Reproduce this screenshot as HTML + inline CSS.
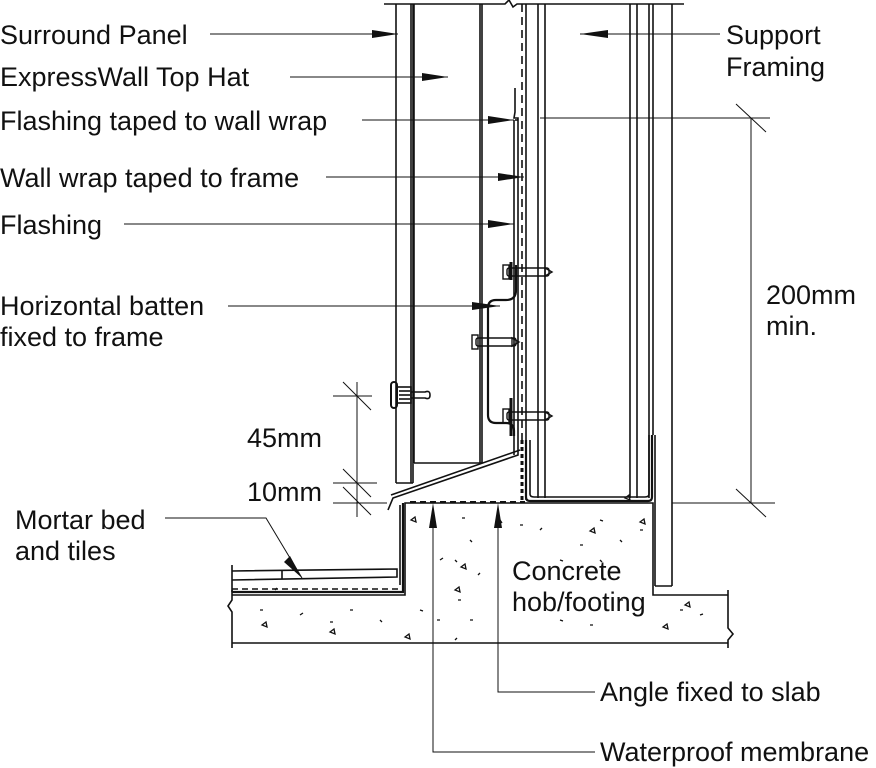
<!DOCTYPE html>
<html><head><meta charset="utf-8"><style>
html,body{margin:0;padding:0;background:#fff;}
svg{display:block}
text{font-family:"Liberation Sans",Arial,sans-serif;font-size:27px;fill:#111}
</style></head><body>
<svg width="876" height="768" viewBox="0 0 876 768" xmlns="http://www.w3.org/2000/svg">
<g stroke="#111" fill="none" stroke-width="1.6">
<polyline points="384,4 505,4 509,0 513,7 517,4 684,4"/>
<line x1="396" y1="4" x2="396" y2="483"/>
<line x1="411" y1="4" x2="411" y2="483"/>
<line x1="413" y1="4" x2="413" y2="483"/>
<line x1="396" y1="483" x2="413" y2="483"/>
<line x1="414" y1="4" x2="414" y2="463"/>
<line x1="480" y1="4" x2="480" y2="463"/>
<line x1="482" y1="4" x2="482" y2="463"/>
<line x1="414" y1="463" x2="482" y2="463"/>
<polyline points="515,88 515,112 514,118 518,118 518,455 393,498 388,510"/>
<polyline points="515,120 518,120" />
<line x1="514" y1="120" x2="514" y2="455"/>
<line x1="520" y1="450" x2="391" y2="495"/>
<line x1="522" y1="4" x2="522" y2="440" stroke-dasharray="8,5"/>
<line x1="522" y1="440" x2="522" y2="500" stroke-dasharray="4,3" stroke-width="3"/>
<line x1="526" y1="4" x2="526" y2="500"/>
<line x1="538" y1="4" x2="538" y2="498"/>
<line x1="545" y1="4" x2="545" y2="498"/>
<line x1="630" y1="4" x2="630" y2="498"/>
<line x1="637" y1="4" x2="637" y2="498"/>
<line x1="649" y1="4" x2="649" y2="498"/>
<line x1="653" y1="4" x2="653" y2="435"/>
<line x1="672" y1="4" x2="672" y2="586"/>
<path d="M526,440 L526,497 Q526,501 530,501 L648,501 Q652,501 652,497 L652,435" stroke-width="2.2"/>
<path d="M530,440 L530,494 Q530,497 534,497 L645,497 Q649,497 649,494 L649,435"/>
<line x1="655" y1="435" x2="655" y2="586"/>
<line x1="655" y1="586" x2="672" y2="586"/>
<path d="M516,265 L516,290 Q516,300 506,300 L496,300 Q488,300 488,308 L488,415 Q488,423 496,423 L506,423 Q514,423 514,431 L514,436" stroke-width="2.2"/>
<path d="M511,262 L511,280 M511,398 L511,436" stroke-width="3"/>
<g stroke-width="1.4">
<rect x="507" y="268" width="42" height="8" rx="2"/><polygon points="545,268 552,272 545,276"/>
<rect x="476" y="338" width="40" height="8" rx="2"/><polygon points="512,338 519,342 512,346"/>
<rect x="507" y="412" width="42" height="8" rx="2"/><polygon points="545,412 552,416 545,420"/>
<rect x="472" y="335" width="6" height="14"/><rect x="503" y="265" width="6" height="14"/><rect x="503" y="409" width="6" height="14"/>
</g>
<rect x="391" y="382" width="6" height="26" rx="3" stroke-width="2"/>
<rect x="397" y="387" width="14" height="16"/>
<line x1="399" y1="391" x2="410" y2="391"/><line x1="399" y1="395" x2="410" y2="395"/><line x1="399" y1="399" x2="410" y2="399"/>
<path d="M411,392 L425,392 Q430,390 430,395 Q430,400 425,398 L411,398"/>
<polyline points="232,595 405,595 405,503 653,503 653,595 728,595"/>
<line x1="232" y1="643" x2="728" y2="643"/>
<polyline points="232,590 232,600 228,606 232,612 232,648"/>
<polyline points="728,590 728,628 733,634 728,640 728,648"/>
<polyline points="232,592 403,592 403,503" stroke-width="2.2"/>
<line x1="232" y1="589" x2="400" y2="589" stroke-dasharray="6,4"/>
<line x1="410" y1="502" x2="525" y2="502" stroke-dasharray="6,4" stroke-width="2"/>
<polyline points="232,571 397,569 397,577 232,580"/>
<line x1="282" y1="571" x2="282" y2="579"/>
<line x1="400" y1="505" x2="400" y2="585"/>
<line x1="232" y1="565" x2="232" y2="592"/>
</g>
<g fill="none" stroke="#111" stroke-width="1.3">
<path d="M462,518 l3,0 M470,540 l2,2 M440,560 l3,-2 M478,575 l2,-2 M458,600 l3,0 M437,620 l3,0 M455,640 l2,-2 M500,520 l2,3 M520,525 l3,0 M540,530 l2,-2 M560,560 l3,1 M600,560 l2,2 M640,530 l3,0 M620,600 l3,0 M680,610 l3,0 M700,615 l3,-1 M260,610 l3,0 M300,615 l3,-2 M350,610 l3,0 M380,620 l2,2 M330,622 l3,0 M420,610 l3,1 M560,620 l3,1 M590,625 l3,0 M275,590 l2,-2 M600,520 l3,1 M620,540 l2,2 M580,545 l3,0 M455,560 l2,2 M470,620 l3,0"/>
<path d="M411,520 l4,-3 l1,5 z M461,567 l4,-3 l1,5 z M455,590 l4,-3 l1,5 z M262,625 l4,-3 l1,5 z M330,632 l4,-3 l1,5 z M405,637 l4,-3 l1,5 z M590,531 l4,-3 l1,5 z M625,498 l4,-3 l1,5 z M685,605 l4,-3 l1,5 z M663,627 l4,-3 l1,5 z M640,522 l4,-3 l1,5 z"/>
</g>
<g stroke="#111" stroke-width="1">
<line x1="210" y1="34" x2="398" y2="34"/>
<line x1="290" y1="77" x2="448" y2="77"/>
<line x1="362" y1="120" x2="514" y2="120"/>
<line x1="326" y1="177" x2="524" y2="177"/>
<line x1="124" y1="224" x2="514" y2="224"/>
<line x1="228" y1="306" x2="500" y2="306"/>
<line x1="580" y1="34" x2="720" y2="34"/>
<line x1="540" y1="118" x2="770" y2="118"/>
<line x1="672" y1="503" x2="775" y2="503"/>
<line x1="751" y1="118" x2="751" y2="503"/>
<line x1="736" y1="104" x2="766" y2="132"/>
<line x1="736" y1="489" x2="766" y2="517"/>
<line x1="333" y1="396" x2="372" y2="396"/>
<line x1="333" y1="483" x2="377" y2="483"/>
<line x1="333" y1="503" x2="387" y2="503"/>
<line x1="357" y1="382" x2="357" y2="517"/>
<line x1="343" y1="382" x2="371" y2="410"/>
<line x1="343" y1="469" x2="371" y2="497"/>
<line x1="343" y1="487" x2="371" y2="515"/>
<polyline points="165,518 266,518 302,578" fill="none"/>
<polyline points="595,692 498,692 498,510" fill="none"/>
<polyline points="595,752 433,752 433,510" fill="none"/>
</g>
<g fill="#111">
<polygon points="398,34 372,30 372,38"/>
<polygon points="448,77 422,73 422,81"/>
<polygon points="514,120 488,116 488,124"/>
<polygon points="524,177 498,173 498,181"/>
<polygon points="514,224 488,220 488,228"/>
<polygon points="500,306 472,302 472,310"/>
<polygon points="580,34 608,30 608,38"/>
<polygon points="302,578 290,556 284,562"/>
<polygon points="498,503 494,528 502,528"/>
<polygon points="433,503 429,528 437,528"/>
</g>
<text x="0" y="44">Surround Panel</text>
<text x="0" y="86">ExpressWall Top Hat</text>
<text x="0" y="130">Flashing taped to wall wrap</text>
<text x="0" y="187">Wall wrap taped to frame</text>
<text x="0" y="234">Flashing</text>
<text x="0" y="315">Horizontal batten</text>
<text x="0" y="346">fixed to frame</text>
<text x="726" y="44">Support</text>
<text x="726" y="76">Framing</text>
<text x="766" y="304">200mm</text>
<text x="766" y="335">min.</text>
<text x="247" y="447">45mm</text>
<text x="247" y="501">10mm</text>
<text x="15" y="529">Mortar bed</text>
<text x="15" y="560">and tiles</text>
<text x="512" y="580">Concrete</text>
<text x="512" y="611">hob/footing</text>
<text x="600" y="701">Angle fixed to slab</text>
<text x="600" y="761">Waterproof membrane</text>
</svg>
</body></html>
